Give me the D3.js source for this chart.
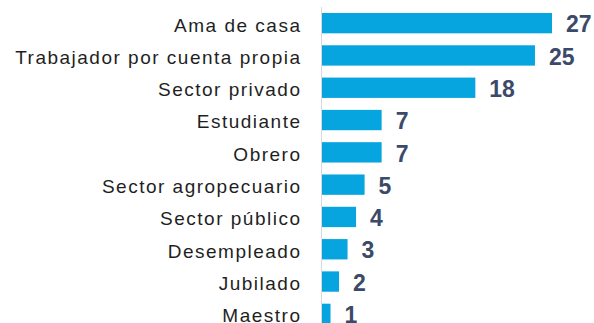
<!DOCTYPE html>
<html>
<head>
<meta charset="utf-8">
<script src="https://cdn.jsdelivr.net/npm/d3@7"></script>
<style>
  html, body { margin: 0; padding: 0; background: #fff; }
  svg { display: block; }
</style>
</head>
<body>
<svg id="chart" width="594" height="323"></svg>
<script>
// Occupation categories and their counts
const categories = [
  "Ama de casa",
  "Trabajador por cuenta propia",
  "Sector privado",
  "Estudiante",
  "Obrero",
  "Sector agropecuario",
  "Sector público",
  "Desempleado",
  "Jubilado",
  "Maestro"
];
const values = [27, 25, 18, 7, 7, 5, 4, 3, 2, 1];

const svg = d3.select("#chart");
const axisX = 322;

const x = d3.scaleLinear().domain([0, 27]).range([axisX, 552]);
const y = d3.scaleBand()
  .domain(categories)
  .range([7, 330])
  .paddingInner(0.37)
  .paddingOuter(0.185);

const data = categories.map((c, i) => ({ name: c, value: values[i] }));

// bars
svg.append("g")
  .selectAll("rect")
  .data(data)
  .join("rect")
  .attr("x", x(0))
  .attr("y", d => y(d.name))
  .attr("width", d => x(d.value) - x(0))
  .attr("height", y.bandwidth())
  .attr("fill", "#07a5df");

// vertical baseline
svg.append("line")
  .attr("x1", axisX - 0.5).attr("x2", axisX - 0.5)
  .attr("y1", 7).attr("y2", 323)
  .attr("stroke", "#d9d9d9")
  .attr("stroke-width", 1);

// category labels
svg.append("g")
  .selectAll("text")
  .data(data)
  .join("text")
  .attr("x", 301.5)
  .attr("y", d => y(d.name) + y.bandwidth() / 2)
  .attr("dy", "0.44em")
  .attr("text-anchor", "end")
  .style("font-family", "'Liberation Sans', Arial, sans-serif")
  .style("font-size", "19px")
  .style("letter-spacing", "1.5px")
  .attr("fill", "#1f1f1f")
  .text(d => d.name);

// value labels
svg.append("g")
  .selectAll("text")
  .data(data)
  .join("text")
  .attr("x", d => x(d.value) + 14)
  .attr("y", d => y(d.name) + y.bandwidth() / 2)
  .attr("dy", "0.4em")
  .style("font-family", "'Liberation Sans', Arial, sans-serif")
  .style("font-size", "23px")
  .style("font-weight", "bold")
  .attr("fill", "#3b4a68")
  .text(d => d.value);
</script>
</body>
</html>
